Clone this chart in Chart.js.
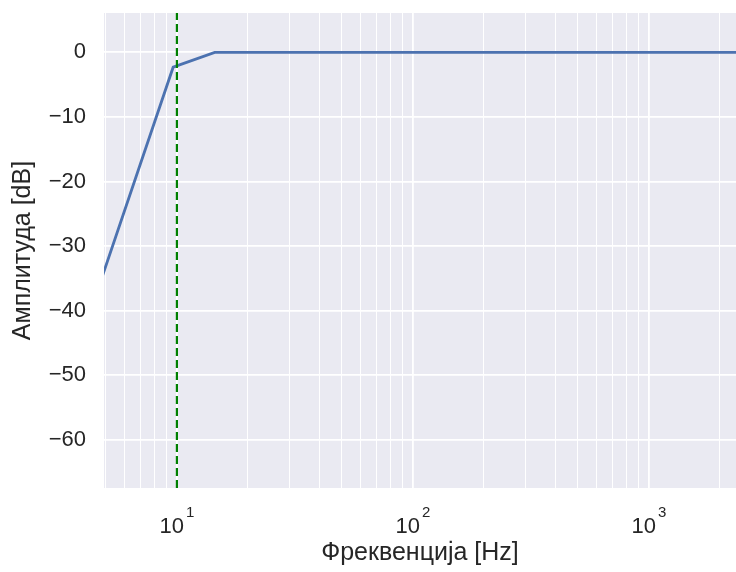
<!DOCTYPE html>
<html>
<head>
<meta charset="utf-8">
<script src="https://cdn.jsdelivr.net/npm/chart.js@4/dist/chart.umd.min.js"></script>
<style>
  html, body { margin: 0; padding: 0; background: #ffffff; }
  #wrap { width: 736px; height: 572px; position: relative; }
</style>
</head>
<body>
<div id="wrap"><canvas id="c" width="736" height="572"></canvas></div>
<script>
// ---- data ----
const freqHz = [4.82, 9.64, 14.46, 2400];
const amplitudeDb = [-34.8, -2.3, 0, 0];
const cutoffHz = 10;
const xMin = 4.91, xMax = 2338;
const yMin = -67.5, yMax = 6.1;
const yTicks = [-60, -50, -40, -30, -20, -10, 0];
const xMajorTicks = [10, 100, 1000];
const xMinorTicks = [5, 6, 7, 8, 9, 20, 30, 40, 50, 60, 70, 80, 90, 200, 300, 400, 500, 600, 700, 800, 900, 2000];
const xTitle = 'Фреквенција [Hz]';
const yTitle = 'Амплитуда [dB]';

const TEXT = '#262626';
const FONT = '"Liberation Sans", Arial, sans-serif';

const bgPlugin = {
  id: 'bg',
  beforeDraw(chart) {
    const {ctx, chartArea: a} = chart;
    ctx.save();
    ctx.fillStyle = '#eaeaf2';
    ctx.fillRect(a.left, a.top, a.right - a.left, a.bottom - a.top);
    ctx.restore();
  }
};

const xLabelPlugin = {
  id: 'xlabels',
  afterDraw(chart) {
    const {ctx} = chart;
    const xs = chart.scales.x;
    ctx.save();
    ctx.fillStyle = TEXT;
    ctx.textBaseline = 'alphabetic';
    xMajorTicks.forEach(v => {
      const exp = String(Math.round(Math.log10(v)));
      const px = xs.getPixelForValue(v);
      ctx.font = '22px ' + FONT;
      const w1 = ctx.measureText('10').width;
      ctx.font = '15px ' + FONT;
      const w2 = ctx.measureText(exp).width;
      const start = px - (w1 + w2 + 2) / 2;
      ctx.font = '22px ' + FONT;
      ctx.textAlign = 'left';
      ctx.fillText('10', start, 533);
      ctx.font = '15px ' + FONT;
      ctx.fillText(exp, start + w1 + 2, 517);
    });
    ctx.restore();
  }
};

new Chart(document.getElementById('c'), {
  type: 'line',
  data: {
    datasets: [
      {
        label: 'cutoff',
        data: [{x: cutoffHz, y: yMin}, {x: cutoffHz, y: yMax}],
        borderColor: '#008000',
        borderWidth: 2.2,
        borderDash: [8, 4],
        pointRadius: 0,
        fill: false
      },
      {
        label: 'response',
        data: freqHz.map((f, i) => ({x: f, y: amplitudeDb[i]})),
        borderColor: '#4c72b0',
        borderWidth: 2.8,
        pointRadius: 0,
        tension: 0,
        fill: false
      }
    ]
  },
  options: {
    responsive: false,
    animation: false,
    devicePixelRatio: 1,
    layout: { padding: { top: 13, right: 0, left: 0, bottom: 0 } },
    plugins: { legend: { display: false }, tooltip: { enabled: false } },
    scales: {
      x: {
        type: 'logarithmic',
        min: xMin, max: xMax,
        border: { display: false },
        afterBuildTicks(scale) {
          scale.ticks = xMinorTicks.concat(xMajorTicks).sort((a, b) => a - b).map(v => ({value: v}));
        },
        afterFit(scale) {
          scale.height = 84;
          scale.paddingLeft = 0; scale.paddingRight = 0;
          scale.paddingTop = 0; scale.paddingBottom = 0;
        },
        grid: {
          drawTicks: false,
          color: '#ffffff',
          lineWidth: ctx => (ctx.tick && xMajorTicks.includes(ctx.tick.value)) ? 1.8 : 1
        },
        ticks: { callback: () => '', autoSkip: false, maxRotation: 0 },
        title: {
          display: true, text: xTitle, color: TEXT,
          font: { family: FONT, size: 25 },
          padding: { top: 0, bottom: 4 }
        }
      },
      y: {
        type: 'linear',
        min: yMin, max: yMax,
        border: { display: false },
        afterBuildTicks(scale) { scale.ticks = yTicks.map(v => ({value: v})); },
        afterFit(scale) {
          scale.width = 104;
          scale.paddingTop = 0; scale.paddingBottom = 0;
          scale.paddingLeft = 0; scale.paddingRight = 0;
        },
        grid: { drawTicks: false, color: '#ffffff', lineWidth: 1.8 },
        ticks: {
          color: TEXT, padding: 18,
          font: { family: FONT, size: 22 },
          callback: v => (v < 0 ? '\u2212' + Math.abs(v) : String(v))
        },
        title: {
          display: true, text: yTitle, color: TEXT,
          font: { family: FONT, size: 25 },
          padding: { top: 8, bottom: 0 }
        }
      }
    }
  },
  plugins: [bgPlugin, xLabelPlugin]
});
</script>
</body>
</html>
